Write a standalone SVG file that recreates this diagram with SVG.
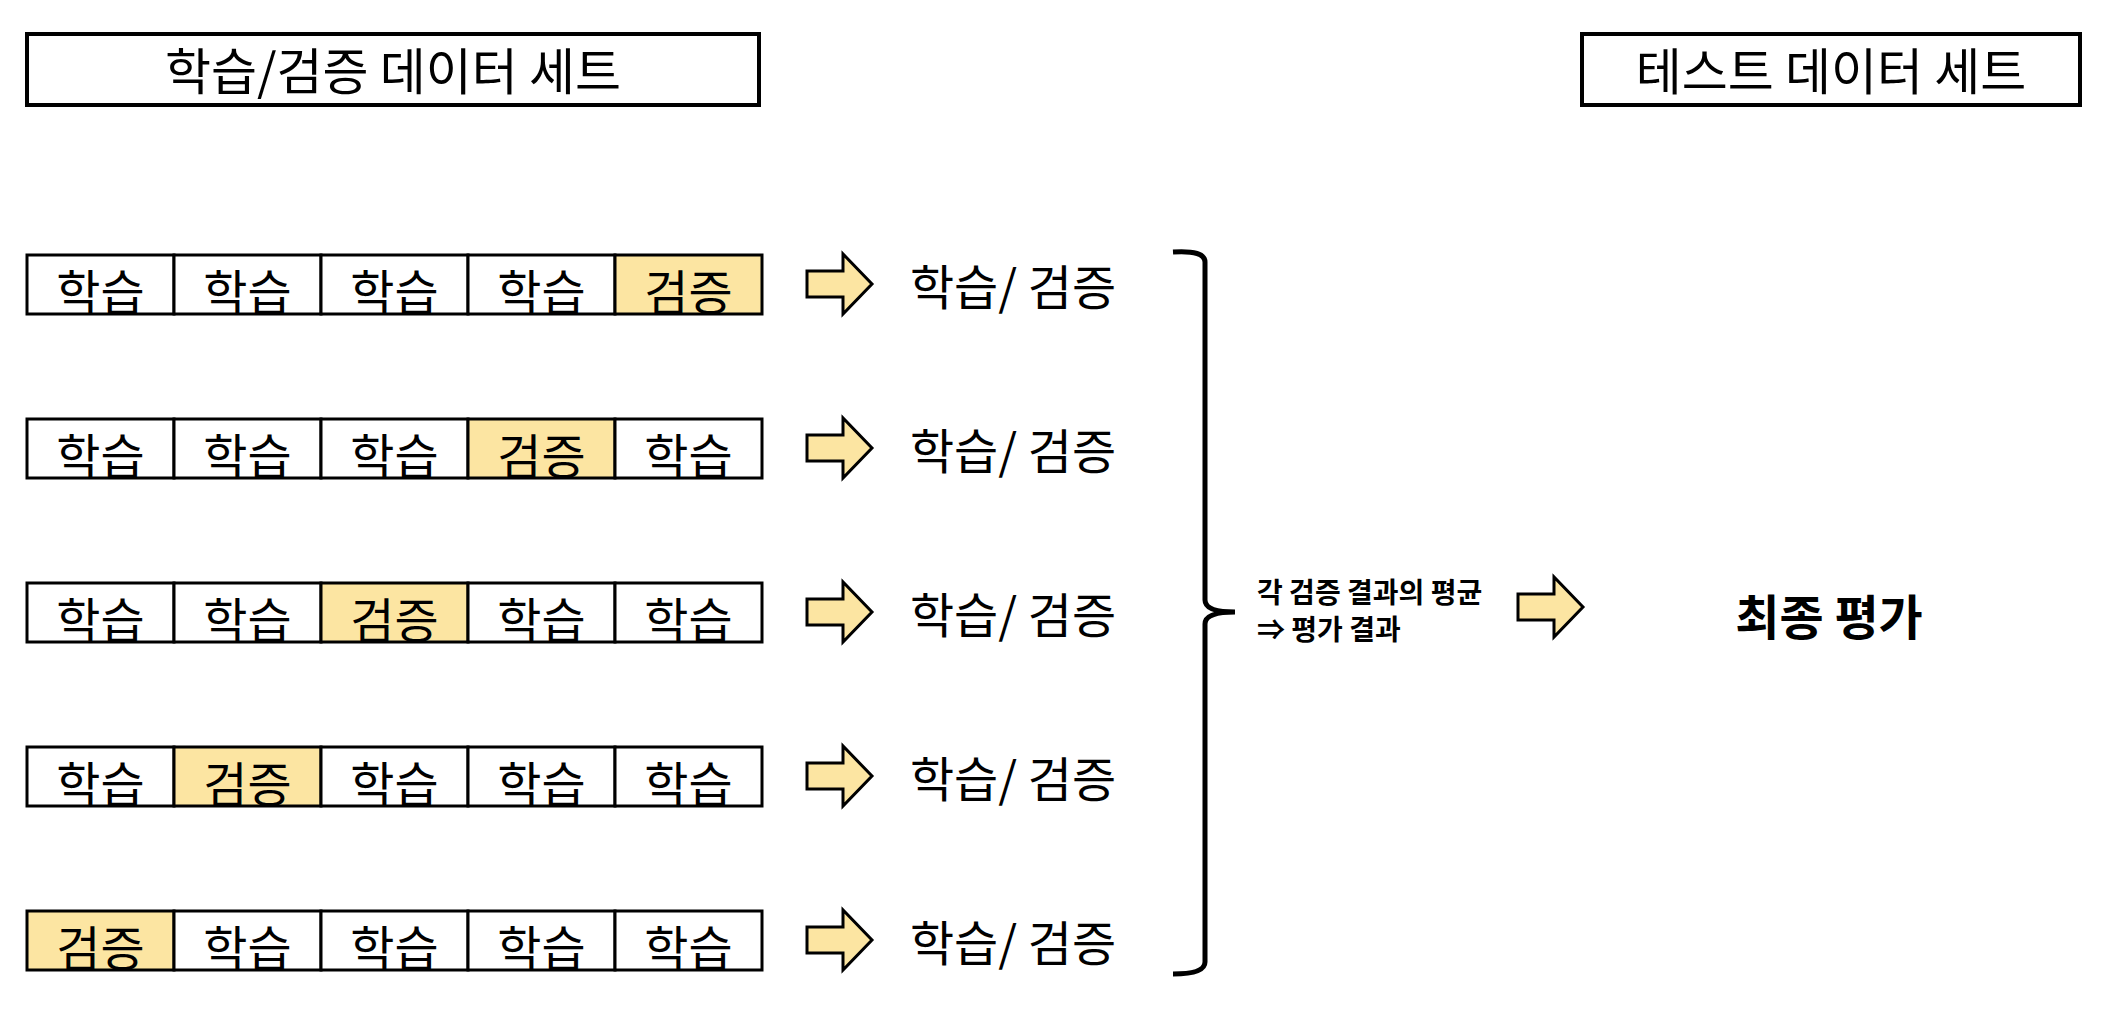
<svg xmlns="http://www.w3.org/2000/svg" width="2106" height="1012" viewBox="0 0 2106 1012">
<style>
.t{font-family:"Noto Sans CJK KR","Noto Sans",sans-serif;fill:#000}
.c{font-size:48px;text-anchor:middle;dominant-baseline:central}
.h{font-size:50px}
.b{font-weight:bold}
.box{fill:#fff;stroke:#000;stroke-width:4}
.cell{fill:#fff;stroke:#000;stroke-width:3}
.val{fill:#FCE5A2;stroke:#000;stroke-width:3}
.arr{fill:#FCE5A2;stroke:#000;stroke-width:3;stroke-linejoin:miter}
.br{fill:none;stroke:#000;stroke-width:5}
</style>
<defs>
<path id="arrow" d="M0,-13 H36 V-30 L65,0 L36,30 V13 H0 Z"/>
</defs>
<g id="title-train">
<rect class="box" x="27" y="34" width="732" height="71"/>
<text class="t c h" x="393" y="68">학습/검증 데이터 세트</text>
</g>
<g id="title-test">
<rect class="box" x="1582" y="34" width="498" height="71"/>
<text class="t c h" x="1831" y="68">테스트 데이터 세트</text>
</g>
<g id="fold1">
<rect class="cell" x="27" y="255" width="147" height="59"/><text class="t c" x="100.5" y="289">학습</text>
<rect class="cell" x="174" y="255" width="147" height="59"/><text class="t c" x="247.5" y="289">학습</text>
<rect class="cell" x="321" y="255" width="147" height="59"/><text class="t c" x="394.5" y="289">학습</text>
<rect class="cell" x="468" y="255" width="147" height="59"/><text class="t c" x="541.5" y="289">학습</text>
<rect class="val" x="615" y="255" width="147" height="59"/><text class="t c" x="688.5" y="289">검증</text>
</g>
<g id="fold2">
<rect class="cell" x="27" y="419" width="147" height="59"/><text class="t c" x="100.5" y="453">학습</text>
<rect class="cell" x="174" y="419" width="147" height="59"/><text class="t c" x="247.5" y="453">학습</text>
<rect class="cell" x="321" y="419" width="147" height="59"/><text class="t c" x="394.5" y="453">학습</text>
<rect class="val" x="468" y="419" width="147" height="59"/><text class="t c" x="541.5" y="453">검증</text>
<rect class="cell" x="615" y="419" width="147" height="59"/><text class="t c" x="688.5" y="453">학습</text>
</g>
<g id="fold3">
<rect class="cell" x="27" y="583" width="147" height="59"/><text class="t c" x="100.5" y="617">학습</text>
<rect class="cell" x="174" y="583" width="147" height="59"/><text class="t c" x="247.5" y="617">학습</text>
<rect class="val" x="321" y="583" width="147" height="59"/><text class="t c" x="394.5" y="617">검증</text>
<rect class="cell" x="468" y="583" width="147" height="59"/><text class="t c" x="541.5" y="617">학습</text>
<rect class="cell" x="615" y="583" width="147" height="59"/><text class="t c" x="688.5" y="617">학습</text>
</g>
<g id="fold4">
<rect class="cell" x="27" y="747" width="147" height="59"/><text class="t c" x="100.5" y="781">학습</text>
<rect class="val" x="174" y="747" width="147" height="59"/><text class="t c" x="247.5" y="781">검증</text>
<rect class="cell" x="321" y="747" width="147" height="59"/><text class="t c" x="394.5" y="781">학습</text>
<rect class="cell" x="468" y="747" width="147" height="59"/><text class="t c" x="541.5" y="781">학습</text>
<rect class="cell" x="615" y="747" width="147" height="59"/><text class="t c" x="688.5" y="781">학습</text>
</g>
<g id="fold5">
<rect class="val" x="27" y="911" width="147" height="59"/><text class="t c" x="100.5" y="945">검증</text>
<rect class="cell" x="174" y="911" width="147" height="59"/><text class="t c" x="247.5" y="945">학습</text>
<rect class="cell" x="321" y="911" width="147" height="59"/><text class="t c" x="394.5" y="945">학습</text>
<rect class="cell" x="468" y="911" width="147" height="59"/><text class="t c" x="541.5" y="945">학습</text>
<rect class="cell" x="615" y="911" width="147" height="59"/><text class="t c" x="688.5" y="945">학습</text>
</g>
<g id="result1"><text class="t c" x="1013" y="284">학습/ 검증</text></g>
<g id="result2"><text class="t c" x="1013" y="448">학습/ 검증</text></g>
<g id="result3"><text class="t c" x="1013" y="612">학습/ 검증</text></g>
<g id="result4"><text class="t c" x="1013" y="776">학습/ 검증</text></g>
<g id="result5"><text class="t c" x="1013" y="940">학습/ 검증</text></g>
<g id="average">
<text class="t b" font-size="28" x="1257" y="603">각 검증 결과의 평균</text>
<text class="t b" font-size="28" x="1257" y="640">⇒ 평가 결과</text>
</g>
<g id="final"><text class="t c b" font-size="48" x="1829" y="614">최종 평가</text></g>
<g id="connectors">
<use href="#arrow" class="arr" x="807" y="284"/>
<use href="#arrow" class="arr" x="807" y="448"/>
<use href="#arrow" class="arr" x="807" y="612"/>
<use href="#arrow" class="arr" x="807" y="776"/>
<use href="#arrow" class="arr" x="807" y="940"/>
<path class="br" d="M1173,252 Q1205,250 1205,262 L1205,600 Q1205,612 1235,612 Q1205,612 1205,624 L1205,962 Q1205,974 1173,974"/>
<use href="#arrow" class="arr" x="1518" y="607"/>
</g>
</svg>
